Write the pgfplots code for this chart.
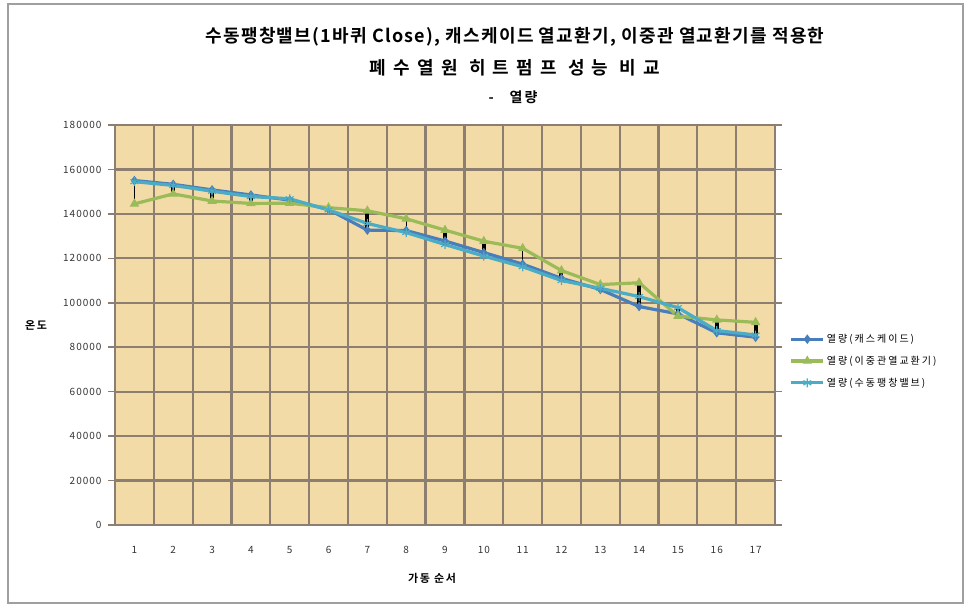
\documentclass[border=0pt]{standalone}
\usepackage{pgfplots}
\pgfplotsset{compat=1.18}
\usepackage{fontspec}
\setmainfont{Noto Sans CJK KR}[BoldFont={Noto Sans CJK KR Bold}]
\definecolor{bg}{HTML}{F3DBA8}
\definecolor{gridc}{HTML}{8C7E70}
\definecolor{s1}{HTML}{4A7EBB}
\definecolor{s2}{HTML}{9BBB59}
\definecolor{s3}{HTML}{4BACC6}
\begin{document}
\begin{tikzpicture}
\path (0pt,0pt) rectangle (971pt,611pt);
\draw[gray!75, line width=1.2pt] (8pt,8pt) rectangle (963pt,607pt);
\node[font=\bfseries\fontsize{18}{21}\selectfont\addfontfeature{LetterSpace=7}] at (515pt,574pt) {수동팽창밸브(1바퀴 Close), 캐스케이드 열교환기, 이중관 열교환기를 적용한};
\node[font=\bfseries\fontsize{18}{21}\selectfont\addfontfeature{LetterSpace=40}] at (515pt,543pt) {폐수열원 히트펌프 성능 비교};
\node[font=\bfseries\fontsize{14}{16}\selectfont\addfontfeature{LetterSpace=15}] at (513pt,514pt) {-\ \ \ 열량};
\node[font=\bfseries\fontsize{11}{13}\selectfont\addfontfeature{LetterSpace=15}] at (36pt,286pt) {온도};
\node[font=\bfseries\fontsize{11}{13}\selectfont\addfontfeature{LetterSpace=15}] at (432pt,33pt) {가동 순서};
\begin{axis}[
  at={(115pt,86pt)}, anchor=south west, scale only axis,
  width=660pt, height=400pt,
  xmin=0.5, xmax=17.5, ymin=0, ymax=180000,
  xtick={1,2,3,4,5,6,7,8,9,10,11,12,13,14,15,16,17},
  xticklabels={1,2,3,4,5,6,7,8,9,10,11,12,13,14,15,16,17},
  minor xtick={1.5,2.5,3.5,4.5,5.5,6.5,7.5,8.5,9.5,10.5,11.5,12.5,13.5,14.5,15.5,16.5},
  ytick={0,20000,40000,60000,80000,100000,120000,140000,160000,180000},
  yticklabels={0,20000,40000,60000,80000,100000,120000,140000,160000,180000},
  scaled y ticks=false,
  ymajorgrids, xminorgrids,
  grid style={gridc, line width=2.2pt},
  minor grid style={gridc, line width=2.2pt},
  axis line style={gridc, line width=2.2pt},
  axis background/.style={fill=bg},
  tick align=outside,
  major tick length=7pt, minor tick length=0pt,
  ytick style={gridc, line width=1.5pt},
  xtick style={draw=none},
  tick label style={font=\fontsize{10}{12}\selectfont\addfontfeature{LetterSpace=10}, text=black!80},
  yticklabel style={xshift=-3pt},
  xticklabel style={yshift=-11pt},
  legend style={at={(1.022,0.41)}, anchor=west, draw=none, fill=none,
    font=\fontsize{10}{12}\selectfont\addfontfeature{LetterSpace=20}, row sep=8pt,
    inner xsep=0pt},
  legend image code/.code={
    \draw[mark repeat=2,mark phase=2] plot coordinates {(0pt,0pt) (16pt,0pt) (32pt,0pt)};},
  legend cell align=left,
  clip=false,
]
\addplot[s1, line width=3.2pt, mark=diamond*, mark size=4pt, mark options={fill=s1, line width=1pt}] coordinates {
(1,155000) (2,153300) (3,150800) (4,148500) (5,146200) (6,142000) (7,132700) (8,132500) (9,127800)
(10,122600) (11,117400) (12,111000) (13,106000) (14,98300) (15,95000) (16,86500) (17,84500)};
\addlegendentry{열량(캐스케이드)}
\addplot[s2, line width=3.2pt, mark=triangle*, mark size=4.5pt, mark options={fill=s2, line width=1pt}] coordinates {
(1,144500) (2,149000) (3,145800) (4,144700) (5,144800) (6,142800) (7,141400) (8,137800) (9,132700)
(10,127700) (11,124500) (12,114500) (13,108200) (14,109000) (15,94000) (16,92300) (17,91200)};
\addlegendentry{열량(이중관열교환기)}
\addplot[s3, line width=3.2pt, mark=asterisk, mark size=4.5pt, mark options={line width=1.2pt}] coordinates {
(1,154500) (2,152800) (3,150200) (4,147800) (5,146800) (6,141800) (7,135700) (8,131600) (9,126200)
(10,121000) (11,116200) (12,110000) (13,106500) (14,102800) (15,97800) (16,87500) (17,85500)};
\addlegendentry{열량(수동팽창밸브)}
\addplot[black, line width=4pt, unbounded coords=jump, forget plot] coordinates {
(2,149700) (2,153100) (2,nan)
(3,146200) (3,150800) (3,nan)
(4,144600) (4,148800) (4,nan)
(5,144600) (5,146600) (5,nan)
(7,132700) (7,141400) (7,nan)
(9,126100) (9,132700) (9,nan)
(10,120900) (10,127700) (10,nan)
(12,110500) (12,114200) (12,nan)
(13,105800) (13,108000) (13,nan)
(14,98300) (14,109000) (14,nan)
(15,94600) (15,97300) (15,nan)
(16,86400) (16,92300) (16,nan)
(17,84200) (17,91200)};
\addplot[black, line width=1.2pt, unbounded coords=jump, forget plot] coordinates {
(1,144500) (1,156000) (1,nan)
(6,141500) (6,143100) (6,nan)
(8,131600) (8,137100) (8,nan)
(11,116200) (11,124000)};
\end{axis}
\end{tikzpicture}
\end{document}
